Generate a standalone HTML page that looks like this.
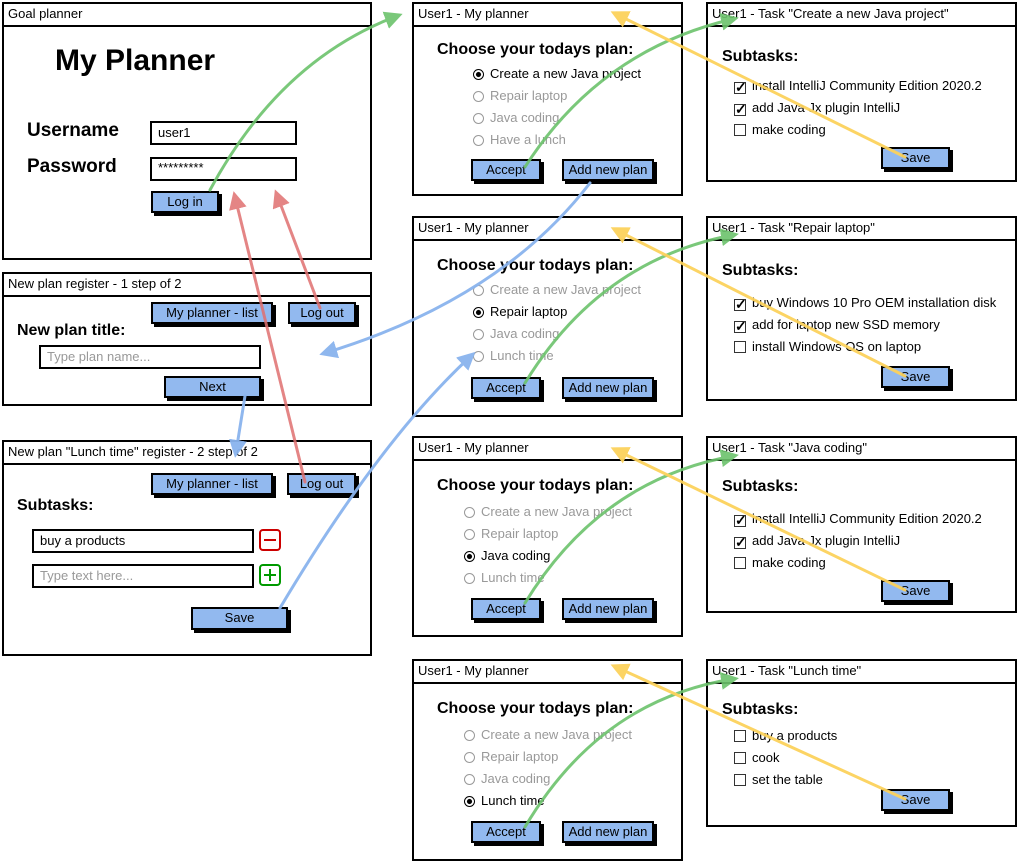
<!DOCTYPE html>
<html><head><meta charset="utf-8"><style>
body{margin:0;width:1019px;height:863px;background:#fff;position:relative;overflow:hidden;font-family:"Liberation Sans",sans-serif;color:#000}
.w{position:absolute;border:2px solid #000;box-sizing:border-box;background:#fff}
.t{position:absolute;left:0;right:0;top:0;height:21px;border-bottom:2px solid #000;font-size:13px;line-height:20px;padding-left:4px;white-space:nowrap}
.a{position:absolute;white-space:nowrap}
.b{position:absolute;background:#92b9ef;border:2px solid #000;box-shadow:3px 3px 0 #000;box-sizing:border-box;font-size:13px;text-align:center;line-height:18px}
.h{position:absolute;font-weight:bold;font-size:16px;white-space:nowrap}
.r{position:absolute;font-size:13px;color:#999;white-space:nowrap}
.r i{display:inline-block;width:11px;height:11px;border:1px solid #999;border-radius:50%;vertical-align:-2px;margin-right:6px;box-sizing:border-box}
.r.s{color:#000}.r.s i{border-color:#000;background:radial-gradient(#000 35%,#fff 45%)}
.c{position:absolute;font-size:13px;white-space:nowrap}
.c i{display:inline-block;width:12px;height:12px;border:1px solid #333;vertical-align:-2px;margin-right:6px;box-sizing:border-box;font-style:normal;font-size:14px;line-height:9px;font-weight:bold}
.in{position:absolute;border:2px solid #000;box-sizing:border-box;font-size:13px;line-height:18px;padding-left:6px;background:#fff}
</style></head><body>

<!-- Login -->
<div class="w" style="left:2px;top:2px;width:370px;height:258px"><div class="t">Goal planner</div></div>
<div class="a" style="left:55px;top:44px;font-size:30px;font-weight:bold">My Planner</div>
<div class="a" style="left:27px;top:120px;font-size:19px;font-weight:bold">Username</div>
<div class="a" style="left:27px;top:156px;font-size:19px;font-weight:bold">Password</div>
<div class="in" style="left:150px;top:121px;width:147px;height:24px;line-height:20px">user1</div>
<div class="in" style="left:150px;top:157px;width:147px;height:24px;line-height:18px">*********</div>
<div class="b" style="left:151px;top:191px;width:68px;height:22px">Log in</div>

<!-- New plan 1 -->
<div class="w" style="left:2px;top:272px;width:370px;height:134px"><div class="t">New plan register - 1 step of 2</div></div>
<div class="b" style="left:151px;top:302px;width:122px;height:22px">My planner - list</div>
<div class="b" style="left:288px;top:302px;width:68px;height:22px">Log out</div>
<div class="h" style="left:17px;top:322px">New plan title:</div>
<div class="in" style="left:39px;top:345px;width:222px;height:24px;line-height:20px;color:#999">Type plan name...</div>
<div class="b" style="left:164px;top:376px;width:97px;height:22px">Next</div>

<!-- New plan 2 -->
<div class="w" style="left:2px;top:440px;width:370px;height:216px"><div class="t">New plan "Lunch time" register - 2 step of 2</div></div>
<div class="b" style="left:151px;top:473px;width:122px;height:22px">My planner - list</div>
<div class="b" style="left:287px;top:473px;width:69px;height:22px">Log out</div>
<div class="h" style="left:17px;top:497px">Subtasks:</div>
<div class="in" style="left:32px;top:529px;width:222px;height:24px;line-height:20px">buy a products</div>
<div class="in" style="left:32px;top:564px;width:222px;height:24px;line-height:20px;color:#999">Type text here...</div>
<div class="a" style="left:259px;top:529px;width:22px;height:22px;border:2px solid #c00;border-radius:4px;box-sizing:border-box"><div style="position:absolute;left:3px;right:3px;top:8px;height:2px;background:#c00"></div></div>
<div class="a" style="left:259px;top:564px;width:22px;height:22px;border:2px solid #090;border-radius:4px;box-sizing:border-box"><div style="position:absolute;left:3px;right:3px;top:8px;height:2px;background:#090"></div><div style="position:absolute;top:3px;bottom:3px;left:8px;width:2px;background:#090"></div></div>
<div class="b" style="left:191px;top:607px;width:97px;height:23px">Save</div>

<!-- Planners -->
<div class="w" style="left:412px;top:2px;width:271px;height:194px"><div class="t">User1 - My planner</div></div>
<div class="h" style="left:437px;top:41px">Choose your todays plan:</div>
<div class="r s" style="left:473px;top:66px"><i></i>Create a new Java project</div>
<div class="r" style="left:473px;top:88px"><i></i>Repair laptop</div>
<div class="r" style="left:473px;top:110px"><i></i>Java coding</div>
<div class="r" style="left:473px;top:132px"><i></i>Have a lunch</div>
<div class="b" style="left:471px;top:159px;width:70px;height:22px">Accept</div>
<div class="b" style="left:562px;top:159px;width:92px;height:22px">Add new plan</div>

<div class="w" style="left:412px;top:216px;width:271px;height:201px"><div class="t">User1 - My planner</div></div>
<div class="h" style="left:437px;top:257px">Choose your todays plan:</div>
<div class="r" style="left:473px;top:282px"><i></i>Create a new Java project</div>
<div class="r s" style="left:473px;top:304px"><i></i>Repair laptop</div>
<div class="r" style="left:473px;top:326px"><i></i>Java coding</div>
<div class="r" style="left:473px;top:348px"><i></i>Lunch time</div>
<div class="b" style="left:471px;top:377px;width:70px;height:22px">Accept</div>
<div class="b" style="left:562px;top:377px;width:92px;height:22px">Add new plan</div>

<div class="w" style="left:412px;top:436px;width:271px;height:201px"><div class="t">User1 - My planner</div></div>
<div class="h" style="left:437px;top:477px">Choose your todays plan:</div>
<div class="r" style="left:464px;top:504px"><i></i>Create a new Java project</div>
<div class="r" style="left:464px;top:526px"><i></i>Repair laptop</div>
<div class="r s" style="left:464px;top:548px"><i></i>Java coding</div>
<div class="r" style="left:464px;top:570px"><i></i>Lunch time</div>
<div class="b" style="left:471px;top:598px;width:70px;height:22px">Accept</div>
<div class="b" style="left:562px;top:598px;width:92px;height:22px">Add new plan</div>

<div class="w" style="left:412px;top:659px;width:271px;height:202px"><div class="t">User1 - My planner</div></div>
<div class="h" style="left:437px;top:700px">Choose your todays plan:</div>
<div class="r" style="left:464px;top:727px"><i></i>Create a new Java project</div>
<div class="r" style="left:464px;top:749px"><i></i>Repair laptop</div>
<div class="r" style="left:464px;top:771px"><i></i>Java coding</div>
<div class="r s" style="left:464px;top:793px"><i></i>Lunch time</div>
<div class="b" style="left:471px;top:821px;width:70px;height:22px">Accept</div>
<div class="b" style="left:562px;top:821px;width:92px;height:22px">Add new plan</div>

<!-- Tasks -->
<div class="w" style="left:706px;top:2px;width:311px;height:180px"><div class="t">User1 - Task "Create a new Java project"</div></div>
<div class="h" style="left:722px;top:48px">Subtasks:</div>
<div class="c" style="left:734px;top:78px"><i>✓</i>install IntelliJ Community Edition 2020.2</div>
<div class="c" style="left:734px;top:100px"><i>✓</i>add Java Jx plugin IntelliJ</div>
<div class="c" style="left:734px;top:122px"><i></i>make coding</div>
<div class="b" style="left:881px;top:147px;width:69px;height:22px">Save</div>

<div class="w" style="left:706px;top:216px;width:311px;height:185px"><div class="t">User1 - Task "Repair laptop"</div></div>
<div class="h" style="left:722px;top:262px">Subtasks:</div>
<div class="c" style="left:734px;top:295px"><i>✓</i>buy Windows 10 Pro OEM installation disk</div>
<div class="c" style="left:734px;top:317px"><i>✓</i>add for laptop new SSD memory</div>
<div class="c" style="left:734px;top:339px"><i></i>install Windows OS on laptop</div>
<div class="b" style="left:881px;top:366px;width:69px;height:22px">Save</div>

<div class="w" style="left:706px;top:436px;width:311px;height:177px"><div class="t">User1 - Task "Java coding"</div></div>
<div class="h" style="left:722px;top:478px">Subtasks:</div>
<div class="c" style="left:734px;top:511px"><i>✓</i>install IntelliJ Community Edition 2020.2</div>
<div class="c" style="left:734px;top:533px"><i>✓</i>add Java Jx plugin IntelliJ</div>
<div class="c" style="left:734px;top:555px"><i></i>make coding</div>
<div class="b" style="left:881px;top:580px;width:69px;height:22px">Save</div>

<div class="w" style="left:706px;top:659px;width:311px;height:168px"><div class="t">User1 - Task "Lunch time"</div></div>
<div class="h" style="left:722px;top:701px">Subtasks:</div>
<div class="c" style="left:734px;top:728px"><i></i>buy a products</div>
<div class="c" style="left:734px;top:750px"><i></i>cook</div>
<div class="c" style="left:734px;top:772px"><i></i>set the table</div>
<div class="b" style="left:881px;top:789px;width:69px;height:22px">Save</div>

<svg width="1019" height="863" style="position:absolute;left:0;top:0" fill="none" stroke-width="3" stroke-linecap="round">
<defs>
<marker id="g" markerWidth="6" markerHeight="6" refX="4" refY="3" orient="auto" markerUnits="strokeWidth"><path d="M0,0L6,3L0,6z" fill="#6cc36c" stroke="none"/></marker>
<marker id="y" markerWidth="6" markerHeight="6" refX="4" refY="3" orient="auto" markerUnits="strokeWidth"><path d="M0,0L6,3L0,6z" fill="#fcd25c" stroke="none"/></marker>
<marker id="bl" markerWidth="6" markerHeight="6" refX="4" refY="3" orient="auto" markerUnits="strokeWidth"><path d="M0,0L6,3L0,6z" fill="#8ab4ee" stroke="none"/></marker>
<marker id="rd" markerWidth="6" markerHeight="6" refX="4" refY="3" orient="auto" markerUnits="strokeWidth"><path d="M0,0L6,3L0,6z" fill="#e07070" stroke="none"/></marker>
</defs>
<g stroke="#6cc36c" opacity="0.9" marker-end="url(#g)">
<path d="M210,190 Q280,60 397,16"/>
<path d="M525,167 Q600,50 733,19"/>
<path d="M525,383 Q600,260 733,235"/>
<path d="M525,603 Q600,480 733,456"/>
<path d="M525,827 Q600,700 733,679"/>
</g>
<g stroke="#fcd25c" opacity="0.95" marker-end="url(#y)">
<path d="M905,157 L616,14"/>
<path d="M905,376 L616,230"/>
<path d="M905,590 L616,450"/>
<path d="M905,799 L616,667"/>
</g>
<g stroke="#8ab4ee" opacity="0.95" marker-end="url(#bl)">
<path d="M590,183 Q500,300 325,353"/>
<path d="M245,396 L236,452"/>
<path d="M280,608 Q380,440 471,356"/>
</g>
<g stroke="#e07070" opacity="0.85" marker-end="url(#rd)">
<path d="M305,482 L235,197"/>
<path d="M320,308 L277,195"/>
</g>
</svg>
</body></html>
